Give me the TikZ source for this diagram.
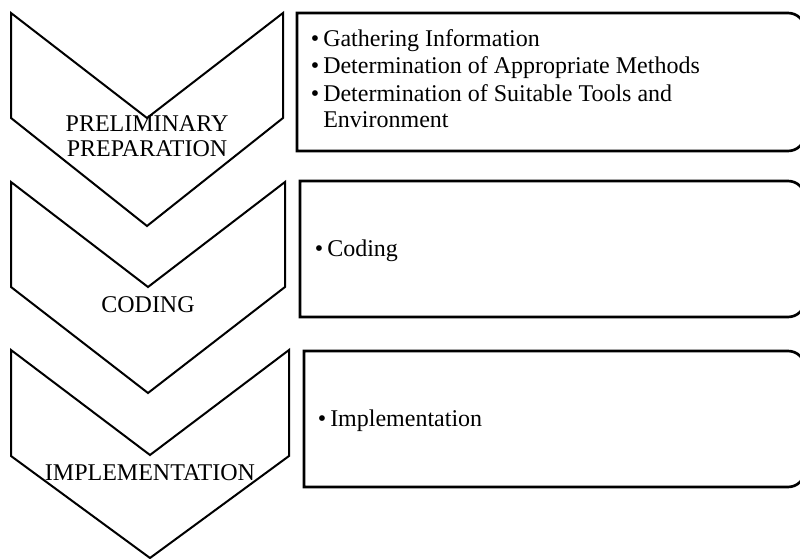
\documentclass[tikz,border=0pt]{standalone}
\usepackage{fontspec}
\setmainfont{Liberation Serif}

\begin{document}
\begin{tikzpicture}[x=0.75pt,y=-0.75pt,
	  stage/.style={draw,line width=1.5pt,line join=miter},
	  task box/.style={draw,line width=2pt},
	  stage node/.style={anchor=base,inner sep=0pt,font=\fontsize{18}{20}\selectfont},
	  task node/.style={anchor=base west,inner sep=0pt,font=\fontsize{18}{20}\selectfont}]

	  \useasboundingbox (0,0) rectangle (800,559);
	  \clip (0,0) rectangle (800,559);

	  % the three chevrons
	  \path[stage] (11,13) -- (147,118) -- (283,13) -- (283,118) -- (147,226) -- (11,118) -- cycle;
	  \path[stage] (11,182) -- (148,287) -- (285,182) -- (285,287) -- (148,393) -- (11,287) -- cycle;
	  \path[stage] (11,350) -- (150,455) -- (289,350) -- (289,456) -- (150,558) -- (11,456) -- cycle;

	  \node[stage node] (prelim) at (147,132) {PRELIMINARY};
	  \node[stage node] (prep) at (147,157) {PREPARATION};
	  \node[stage node] (coding) at (148,313) {CODING};
	  \node[stage node] (impl) at (150,480) {IMPLEMENTATION};

	  % boxes, rounded on the right only
	  \path[task box] (297,151) -- (297,13) -- (788,13) arc[start angle=-90,end angle=0,radius=17]
	    -- (805,134) arc[start angle=0,end angle=90,radius=17] -- cycle;
	  \path[task box] (300,317) -- (300,181) -- (788,181) arc[start angle=-90,end angle=0,radius=17]
	    -- (805,300) arc[start angle=0,end angle=90,radius=17] -- cycle;
	  \path[task box] (304,487) -- (304,351) -- (788,351) arc[start angle=-90,end angle=0,radius=17]
	    -- (805,470) arc[start angle=0,end angle=90,radius=17] -- cycle;

	  \node[task node] (gather) at (323,46.7) {\llap{\textbullet\hspace{3pt}}Gathering Information};
	  \node[task node] (methods) at (323,74) {\llap{\textbullet\hspace{3pt}}Determination of Appropriate Methods};
	  \node[task node] (tools) at (323,101.7) {\llap{\textbullet\hspace{3pt}}Determination of Suitable Tools and};
	  \node[task node] (env) at (323,128) {Environment};
	  \node[task node] (code) at (327,257) {\llap{\textbullet\hspace{3pt}}Coding};
	  \node[task node] (implement) at (330,427) {\llap{\textbullet\hspace{3pt}}Implementation};

\end{tikzpicture}
\end{document}
